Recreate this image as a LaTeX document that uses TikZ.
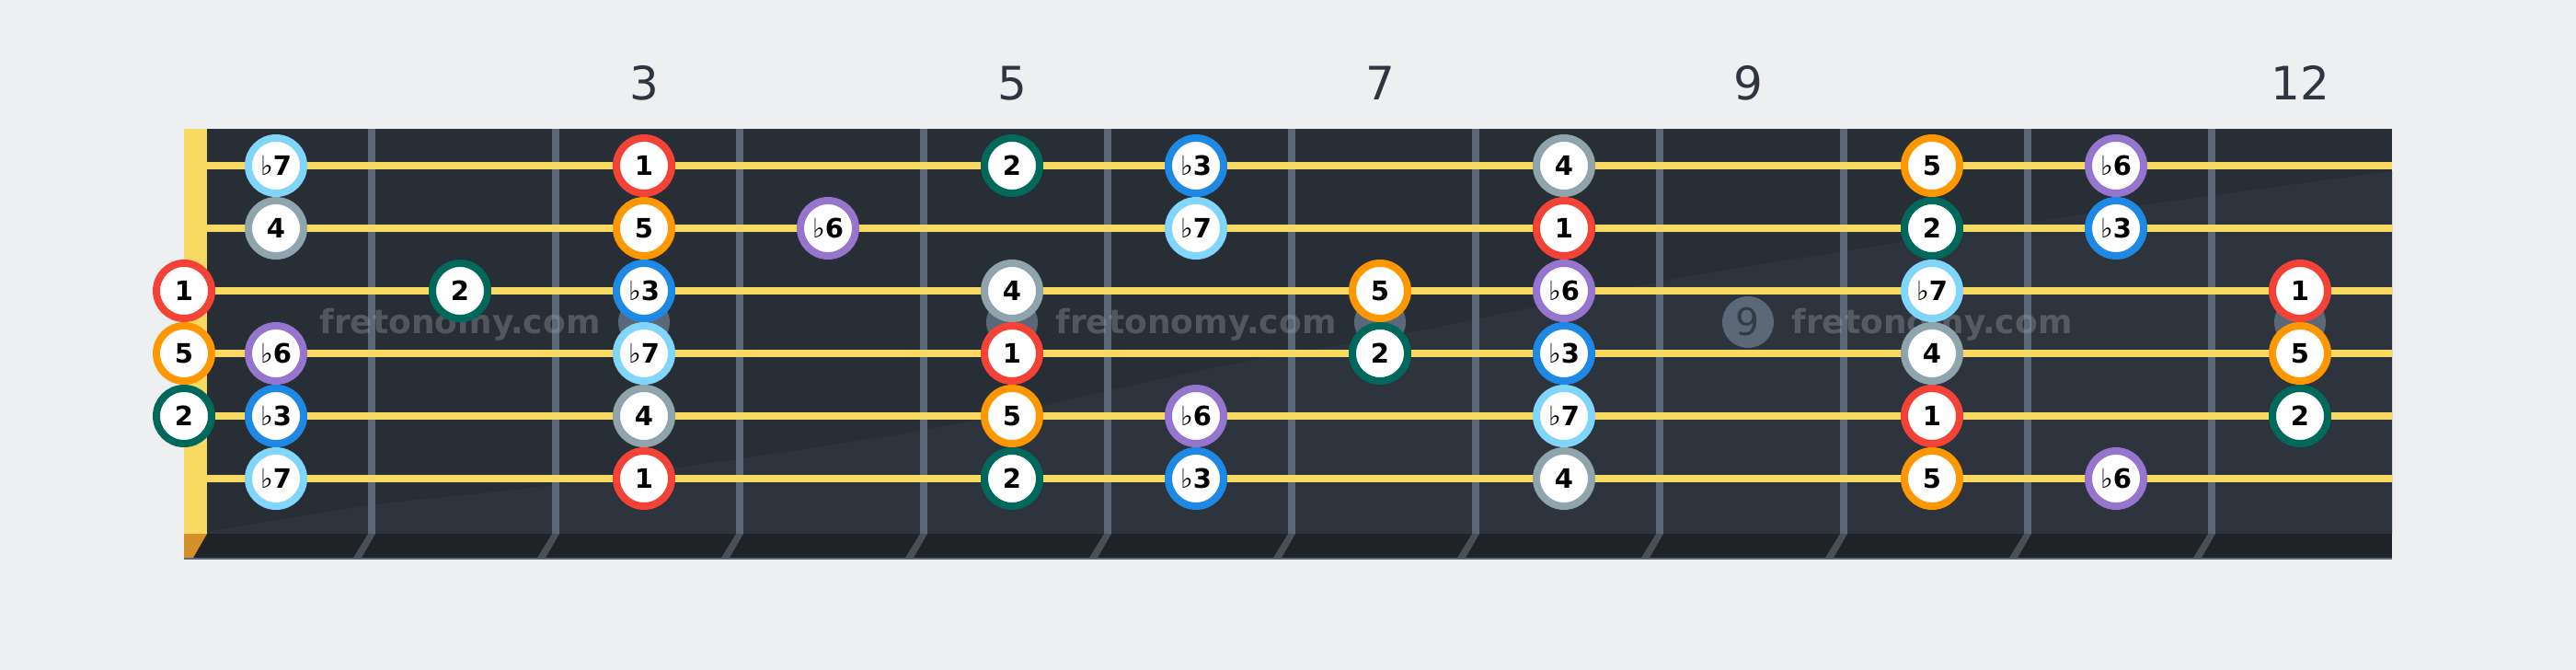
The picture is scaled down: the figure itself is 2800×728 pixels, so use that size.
\documentclass[tikz,border=0pt]{standalone}
\usepackage{fontspec}
\setmainfont{DejaVu Sans}
\definecolor{bg}{HTML}{EEEFF1}
\definecolor{board}{HTML}{282E36}
\definecolor{boardlight}{HTML}{2D343D}
\definecolor{edgec}{HTML}{1F2327}
\definecolor{fretc}{HTML}{5A6878}
\definecolor{strc}{HTML}{F8D962}
\definecolor{nutbot}{HTML}{D4902A}
\definecolor{slantc}{HTML}{4A4F56}
\definecolor{lblc}{HTML}{2D3640}
\definecolor{ninec}{HTML}{333C46}
\definecolor{wmc}{HTML}{A0A4A8}
\definecolor{cI}{HTML}{F44336}
\definecolor{cII}{HTML}{00695C}
\definecolor{cIII}{HTML}{1E88E5}
\definecolor{cIV}{HTML}{90A4AE}
\definecolor{cV}{HTML}{FF9800}
\definecolor{cVI}{HTML}{9575CD}
\definecolor{cVII}{HTML}{81D4FA}
\newcommand\fl{{\mdseries ♭}}
\begin{document}
\begin{tikzpicture}[x=1pt,y=-1pt,
  note/.style={circle, draw=#1, fill=white, line width=8pt, minimum size=60pt,
    inner sep=0pt, text height=21.1pt, text depth=0pt, text=black,
    font=\fontsize{29}{29}\selectfont\bfseries},
  fretlbl/.style={anchor=base, text=lblc, inner sep=0pt, font=\fontsize{50}{50}\selectfont},
  wm/.style={anchor=base, text=wmc, text opacity=0.35, inner sep=0pt, font=\fontsize{36}{36}\selectfont\bfseries},
  inlay/.style={circle, fill=fretc, minimum size=56pt, inner sep=0pt},
  stringline/.style={strc, line width=8pt}
]
\fill[bg] (0,0) rectangle (2800,728);
\useasboundingbox (0,0) rectangle (2800,728);
% board
\fill[board] (200,140) rectangle (2600,580);
\fill[boardlight] (225,580) -- plot[smooth] coordinates {(225,578) (410,548) (600,527) (1000,468) (1317,400) (1530,362) (1810,305) (2100,258) (2350,220) (2600,186)} -- (2600,580) -- cycle;
% bottom edge
\fill[edgec] (200,580) rectangle (2600,608);
\draw[fretc, line width=2pt] (200,607) -- (2600,607);
\foreach \n in {2,...,12} {
  \fill[slantc] (200*\n,580) -- (200*\n+8,580) -- (200*\n-7,606) -- (200*\n-16,606) -- cycle;
}
\fill[nutbot] (200,580) -- (225,580) -- (210,606) -- (200,606) -- cycle;
% nut
\fill[strc] (200,140) rectangle (225,580);
% frets
\foreach \n in {2,...,12} {
  \fill[fretc] (200*\n,140) rectangle (200*\n+8,580);
}
% inlays
\foreach \f in {3,5,7,9,12} {
  \node[inlay] (inlay\f) at (100+200*\f,350) {};
}
\node[text=ninec, inner sep=0pt, font=\fontsize{41}{41}\selectfont] (ninelbl) at (inlay9) {9};
% watermarks
\node[wm] (wm1) at (500,362) {fretonomy.com};
\node[wm] (wm2) at (1300,362) {fretonomy.com};
\node[wm] (wm3) at (2100,362) {fretonomy.com};
% strings
\foreach \s in {1,...,6} {
  \draw[stringline] (225,180+68*\s-68) -- (2600,180+68*\s-68);
}
% notes
\foreach \s/\f/\c/\t in {
  1/1/cVII/{\fl7}, 1/3/cI/1, 1/5/cII/2, 1/6/cIII/{\fl3}, 1/8/cIV/4, 1/10/cV/5, 1/11/cVI/{\fl6},
  2/1/cIV/4, 2/3/cV/5, 2/4/cVI/{\fl6}, 2/6/cVII/{\fl7}, 2/8/cI/1, 2/10/cII/2, 2/11/cIII/{\fl3},
  3/0/cI/1, 3/2/cII/2, 3/3/cIII/{\fl3}, 3/5/cIV/4, 3/7/cV/5, 3/8/cVI/{\fl6}, 3/10/cVII/{\fl7}, 3/12/cI/1,
  4/0/cV/5, 4/1/cVI/{\fl6}, 4/3/cVII/{\fl7}, 4/5/cI/1, 4/7/cII/2, 4/8/cIII/{\fl3}, 4/10/cIV/4, 4/12/cV/5,
  5/0/cII/2, 5/1/cIII/{\fl3}, 5/3/cIV/4, 5/5/cV/5, 5/6/cVI/{\fl6}, 5/8/cVII/{\fl7}, 5/10/cI/1, 5/12/cII/2,
  6/1/cVII/{\fl7}, 6/3/cI/1, 6/5/cII/2, 6/6/cIII/{\fl3}, 6/8/cIV/4, 6/10/cV/5, 6/11/cVI/{\fl6}} {
  \pgfmathsetmacro\xx{\f==0 ? 200 : 100+200*\f}
  \pgfmathsetmacro\yy{180+68*(\s-1)}
  \node[note=\c] (n\s-\f) at (\xx,\yy) {\t};
}
% fret numbers
\node[fretlbl] (lbl3) at (700,108) {3};
\node[fretlbl] (lbl5) at (1100,108) {5};
\node[fretlbl] (lbl7) at (1500,108) {7};
\node[fretlbl] (lbl9) at (1900,108) {9};
\node[fretlbl] (lbl12) at (2500,108) {12};
\end{tikzpicture}
\end{document}
